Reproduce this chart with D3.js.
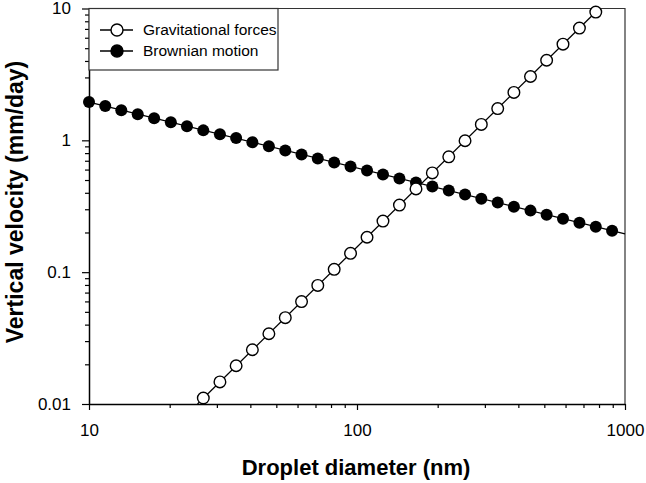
<!DOCTYPE html>
<html>
<head>
<meta charset="utf-8">
<script src="https://cdn.jsdelivr.net/npm/d3@7"></script>
<style>
  body { margin: 0; background: #fff; }
  text { font-family: Arial, "Liberation Sans", sans-serif; }
</style>
</head>
<body>
<svg id="drawing_region"></svg>
<script>
// droplet diameters (nm) where the markers sit
const diameters = [10, 11.5, 13.2, 15.2, 17.5, 20.2, 23.2, 26.7, 30.8, 35.4, 40.7, 46.9, 54.0, 62.1, 71.4, 82.2,
                   94.6, 109, 125, 144, 166, 191, 220, 253, 291, 335, 385, 444, 510, 587, 676, 778, 895];

// Brownian motion velocity (mm/day), one per diameter
const brownian = [1.95, 1.82, 1.69, 1.58, 1.47, 1.37, 1.28, 1.19, 1.11, 1.04, 0.966, 0.901, 0.839, 0.782, 0.729, 0.680,
                  0.634, 0.591, 0.551, 0.513, 0.479, 0.446, 0.416, 0.388, 0.361, 0.337, 0.314, 0.293, 0.273, 0.254, 0.237, 0.221, 0.206];

// gravitational settling velocity (mm/day), from 26.7 nm on
const gravDiameters = [26.7, 30.8, 35.4, 40.7, 46.9, 54.0, 62.1, 71.4, 82.2, 94.6, 109, 125, 144, 166, 191, 220,
                       253, 291, 335, 385, 444, 510, 587, 676, 778];
const gravitational = [0.0111, 0.0147, 0.0195, 0.0258, 0.0341, 0.0452, 0.0598, 0.0793, 0.105, 0.139, 0.184, 0.244,
                       0.323, 0.428, 0.566, 0.750, 0.993, 1.32, 1.74, 2.31, 3.05, 4.05, 5.36, 7.10, 9.40];

// the lines run past the markers up to the frame
const brownLineX = [10, 1000];
const brownLineY = [1.95, 0.195];
const gravLineX = [25.4, 802];
const gravLineY = [0.01, 10];

const xTicks = [10, 100, 1000];
const yTicks = [0.01, 0.1, 1, 10];
const yTickLabels = ["0.01", "0.1", "1", "10"];

const seriesNames = ["Gravitational forces", "Brownian motion"];

class LogChart {

    constructor( config ) {
        this.config = config;
        this.init();
    }

    init() {
        let self = this;
        let c = self.config;

        self.svg = d3.select( c.parent )
            .attr('width', c.width)
            .attr('height', c.height);

        self.xscale = d3.scaleLog()
            .domain([10, 1000])
            .range([c.left, c.right]);

        self.yscale = d3.scaleLog()
            .domain([0.01, 10])
            .range([c.bottom, c.top]);

        self.line = d3.line()
            .x( d => self.xscale(d[0]) )
            .y( d => self.yscale(d[1]) );
    }

    render() {
        let self = this;
        let c = self.config;

        // frame (top and right)
        self.svg.append('path')
            .attr('d', `M${c.left},${c.top}H${c.right}V${c.bottom}`)
            .attr('fill', 'none')
            .attr('stroke', '#333')
            .attr('stroke-width', 1.2);

        // minor tick values between the decades
        let minorX = [];
        let minorY = [];
        [10, 100].forEach( b => { for (let i = 2; i < 10; i++) minorX.push(b * i); });
        [0.01, 0.1, 1].forEach( b => { for (let i = 2; i < 10; i++) minorY.push(+(b * i).toFixed(3)); });

        // x axis
        self.svg.append('g')
            .attr('transform', `translate(0, ${c.bottom})`)
            .call( d3.axisBottom(self.xscale).tickValues(minorX).tickSize(4).tickFormat('') )
            .call( g => g.select('.domain').remove() );

        let xAxis = self.svg.append('g')
            .attr('transform', `translate(0, ${c.bottom})`)
            .call( d3.axisBottom(self.xscale).tickValues(xTicks).tickSize(6).tickSizeOuter(0).tickPadding(14).tickFormat(d3.format('d')) );
        xAxis.selectAll('text').attr('font-size', 17).attr('fill', '#000');

        // y axis
        self.svg.append('g')
            .attr('transform', `translate(${c.left}, 0)`)
            .call( d3.axisLeft(self.yscale).tickValues(minorY).tickSize(4).tickFormat('') )
            .call( g => g.select('.domain').remove() );

        let yAxis = self.svg.append('g')
            .attr('transform', `translate(${c.left}, 0)`)
            .call( d3.axisLeft(self.yscale).tickValues(yTicks).tickSize(7).tickSizeOuter(0).tickPadding(11)
                   .tickFormat( (d, i) => yTickLabels[i] ) );
        yAxis.selectAll('text').attr('font-size', 17).attr('fill', '#000');

        self.svg.selectAll('.domain').attr('stroke', '#000').attr('stroke-width', 1.5);
        self.svg.selectAll('.tick line').attr('stroke', '#000').attr('stroke-width', 1.2);

        // axis titles
        self.svg.append('text')
            .attr('x', 356)
            .attr('y', 475)
            .attr('text-anchor', 'middle')
            .attr('font-size', 22)
            .attr('font-weight', 'bold')
            .text('Droplet diameter (nm)');

        self.svg.append('text')
            .attr('transform', `translate(23, 202) rotate(-90)`)
            .attr('text-anchor', 'middle')
            .attr('font-size', 23)
            .attr('font-weight', 'bold')
            .text('Vertical velocity (mm/day)');

        // lines
        self.svg.append('path')
            .datum( brownLineX.map( (x, i) => [x, brownLineY[i]] ) )
            .attr('d', self.line)
            .attr('fill', 'none')
            .attr('stroke', '#000')
            .attr('stroke-width', 1.3);

        self.svg.append('path')
            .datum( gravLineX.map( (x, i) => [x, gravLineY[i]] ) )
            .attr('d', self.line)
            .attr('fill', 'none')
            .attr('stroke', '#000')
            .attr('stroke-width', 1.3);

        // markers
        self.svg.append('g').selectAll('circle')
            .data( diameters.map( (x, i) => [x, brownian[i]] ) )
            .join('circle')
            .attr('cx', d => self.xscale(d[0]))
            .attr('cy', d => self.yscale(d[1]))
            .attr('r', 6)
            .attr('fill', '#000');

        self.svg.append('g').selectAll('circle')
            .data( gravDiameters.map( (x, i) => [x, gravitational[i]] ) )
            .join('circle')
            .attr('cx', d => self.xscale(d[0]))
            .attr('cy', d => self.yscale(d[1]))
            .attr('r', 5.8)
            .attr('fill', '#fff')
            .attr('stroke', '#000')
            .attr('stroke-width', 1.4);

        // legend
        let legend = self.svg.append('g');
        legend.append('rect')
            .attr('x', c.left)
            .attr('y', c.top)
            .attr('width', 189)
            .attr('height', 61.5)
            .attr('fill', '#fff')
            .attr('stroke', '#333')
            .attr('stroke-width', 1.2);

        seriesNames.forEach( (name, i) => {
            let y = 30 + i * 21;
            legend.append('line')
                .attr('x1', 100).attr('x2', 133)
                .attr('y1', y).attr('y2', y)
                .attr('stroke', '#000')
                .attr('stroke-width', 1.3);
            legend.append('circle')
                .attr('cx', 117).attr('cy', y)
                .attr('r', 6)
                .attr('fill', i == 0 ? '#fff' : '#000')
                .attr('stroke', '#000')
                .attr('stroke-width', 1.4);
            legend.append('text')
                .attr('x', 143).attr('y', y + 5)
                .attr('font-size', 15.5)
                .text(name);
        });
    }
}

const chart = new LogChart({
    parent: '#drawing_region',
    width: 646,
    height: 483,
    left: 89,
    right: 625,
    top: 8.5,
    bottom: 404
});
chart.render();
</script>
</body>
</html>
